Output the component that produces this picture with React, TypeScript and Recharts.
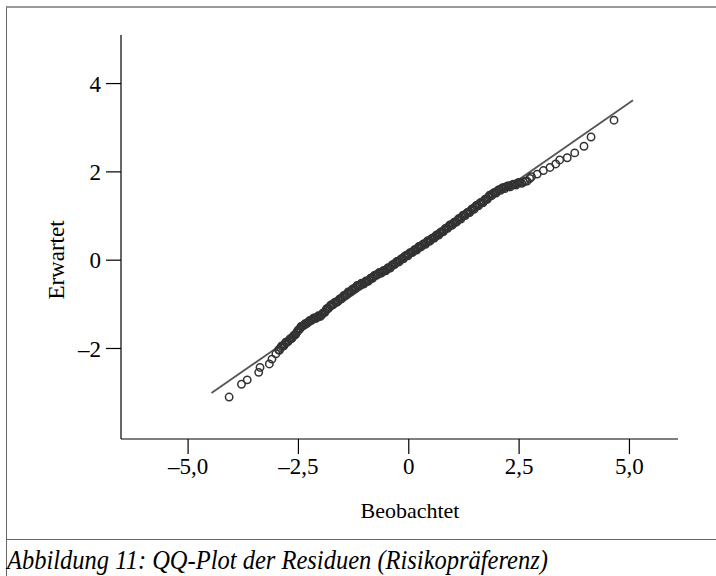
import React from "react";
import {
  ScatterChart, Scatter, XAxis, YAxis, ReferenceLine, Label,
} from "recharts";

// Beobachtete Residuen (x) und erwartete Normalquantile (y)
const observed = [
  -4.07, -3.79, -3.66, -3.40, -3.37, -3.16, -3.10, -3.01, -2.95, -2.90,
  -2.86, -2.81, -2.77, -2.72, -2.67, -2.63, -2.58, -2.54, -2.50, -2.46,
  -2.42, -2.37, -2.32, -2.27, -2.22, -2.17, -2.12, -2.07, -2.02, -1.97,
  -1.92, -1.88, -1.84, -1.79, -1.75, -1.70, -1.65, -1.60, -1.55, -1.50,
  -1.45, -1.40, -1.35, -1.30, -1.25, -1.20, -1.15, -1.10, -1.05, -1.00,
  -0.95, -0.90, -0.85, -0.80, -0.75, -0.70, -0.65, -0.60, -0.55, -0.50,
  -0.45, -0.40, -0.35, -0.30, -0.25, -0.20, -0.15, -0.10, -0.05, 0.00,
  0.05, 0.10, 0.15, 0.20, 0.25, 0.30, 0.35, 0.40, 0.45, 0.50,
  0.55, 0.60, 0.65, 0.70, 0.75, 0.80, 0.85, 0.90, 0.95, 1.00,
  1.05, 1.10, 1.15, 1.20, 1.25, 1.30, 1.35, 1.40, 1.45, 1.50,
  1.55, 1.60, 1.65, 1.70, 1.75, 1.80, 1.85, 1.90, 1.95, 2.00,
  2.05, 2.10, 2.15, 2.20, 2.27, 2.33, 2.40, 2.46, 2.52, 2.60,
  2.68, 2.74, 2.78, 2.91, 3.05, 3.20, 3.33, 3.42, 3.59, 3.76,
  3.97, 4.13, 4.65,
];

const expected = [
  -3.10, -2.81, -2.71, -2.54, -2.43, -2.35, -2.24, -2.12, -2.03, -1.98,
  -1.95, -1.90, -1.86, -1.82, -1.78, -1.74, -1.69, -1.64, -1.58, -1.54,
  -1.50, -1.47, -1.44, -1.40, -1.36, -1.33, -1.31, -1.29, -1.27, -1.24,
  -1.19, -1.14, -1.10, -1.05, -1.01, -0.98, -0.95, -0.92, -0.88, -0.84,
  -0.80, -0.76, -0.72, -0.69, -0.65, -0.61, -0.58, -0.55, -0.53, -0.51,
  -0.48, -0.45, -0.41, -0.37, -0.34, -0.31, -0.29, -0.26, -0.24, -0.21,
  -0.18, -0.14, -0.10, -0.06, -0.03, 0.00, 0.04, 0.08, 0.11, 0.14,
  0.17, 0.20, 0.24, 0.27, 0.31, 0.34, 0.37, 0.40, 0.43, 0.47,
  0.50, 0.54, 0.57, 0.61, 0.64, 0.68, 0.72, 0.76, 0.80, 0.82,
  0.86, 0.90, 0.94, 0.98, 1.02, 1.05, 1.08, 1.12, 1.16, 1.20,
  1.24, 1.28, 1.31, 1.34, 1.38, 1.43, 1.47, 1.50, 1.53, 1.56,
  1.59, 1.62, 1.64, 1.66, 1.68, 1.70, 1.72, 1.74, 1.76, 1.77,
  1.79, 1.85, 1.89, 1.95, 2.03, 2.10, 2.18, 2.27, 2.32, 2.43,
  2.58, 2.79, 3.17,
];

// weitere Fälle im dichten Mittelbereich
const observedB = [
  -2.93, -2.88, -2.83, -2.79, -2.74, -2.69, -2.65, -2.60, -2.56, -2.52,
  -2.48, -2.44, -2.40, -2.35, -2.30, -2.25, -2.20, -2.15, -2.10, -2.05,
  -2.00, -1.95, -1.90, -1.86, -1.82, -1.77, -1.72, -1.67, -1.62, -1.57,
  -1.52, -1.47, -1.42, -1.37, -1.32, -1.27, -1.22, -1.17, -1.12, -1.07,
  -1.02, -0.97, -0.92, -0.87, -0.82, -0.77, -0.72, -0.67, -0.62, -0.57,
  -0.52, -0.47, -0.42, -0.37, -0.32, -0.27, -0.22, -0.17, -0.12, -0.07,
  -0.02, 0.03, 0.08, 0.13, 0.18, 0.23, 0.28, 0.33, 0.38, 0.43,
  0.48, 0.53, 0.58, 0.63, 0.68, 0.73, 0.78, 0.83, 0.88, 0.93,
  0.98, 1.03, 1.08, 1.13, 1.18, 1.23, 1.28, 1.33, 1.38, 1.43,
  1.48, 1.53, 1.58, 1.63, 1.68, 1.73, 1.78, 1.83, 1.88, 1.93,
  1.98, 2.03, 2.08, 2.13, 2.18, 2.24, 2.30, 2.37, 2.43, 2.49,
  2.56, 2.64,
];

const expectedB = [
  -2.04, -1.94, -1.94, -1.86, -1.85, -1.78, -1.77, -1.70, -1.68, -1.60,
  -1.57, -1.50, -1.49, -1.44, -1.42, -1.37, -1.36, -1.31, -1.32, -1.26,
  -1.27, -1.20, -1.18, -1.10, -1.09, -1.02, -1.01, -0.95, -0.95, -0.88,
  -0.87, -0.80, -0.79, -0.72, -0.72, -0.65, -0.65, -0.57, -0.58, -0.52,
  -0.54, -0.47, -0.48, -0.41, -0.41, -0.34, -0.34, -0.28, -0.29, -0.23,
  -0.24, -0.17, -0.18, -0.10, -0.10, -0.03, -0.04, 0.03, 0.03, 0.10,
  0.10, 0.17, 0.17, 0.24, 0.23, 0.31, 0.30, 0.37, 0.36, 0.44,
  0.43, 0.50, 0.50, 0.57, 0.57, 0.64, 0.64, 0.72, 0.72, 0.80,
  0.79, 0.86, 0.86, 0.94, 0.93, 1.02, 1.01, 1.08, 1.08, 1.16,
  1.15, 1.24, 1.23, 1.31, 1.30, 1.38, 1.38, 1.47, 1.46, 1.53,
  1.52, 1.59, 1.58, 1.64, 1.62, 1.68, 1.66, 1.72, 1.70, 1.76,
  1.74, 1.79,
];

// Normalverteilungsgerade (Anfangs- und Endpunkt)
const lineStart = { x: -4.47, y: -3.01 };
const lineEnd = { x: 5.08, y: 3.62 };

const xTicks = [-5, -2.5, 0, 2.5, 5];
const xTickLabels = ["–5,0", "–2,5", "0", "2,5", "5,0"];
const yTicks = [-2, 0, 2, 4];
const yTickLabels = ["–2", "0", "2", "4"];

const data = [
  ...observed.map((o, i) => ({ obs: o, exp: expected[i] })),
  ...observedB.map((o, i) => ({ obs: o, exp: expectedB[i] })),
];

const font = "'Liberation Serif', 'Times New Roman', serif";
const tickStyle = { fill: "#000", fontSize: 23, fontFamily: font };

const Ring = (props: any) => (
  <circle cx={props.cx} cy={props.cy} r={3.7} fill="none" stroke="#333" strokeWidth={1.5} />
);

export default function App() {
  return (
    <div style={{ position: "fixed", left: 0, top: 0, width: 716, height: 576, background: "#fff", overflow: "hidden" }}>
      <div style={{ position: "absolute", left: 6, top: 6, width: 730, height: 531, borderTop: "2px solid #9a9a9a", borderLeft: "1px solid #666", borderBottom: "1px solid #666" }} />
      <div style={{ position: "absolute", left: 6, top: 538, width: 1, height: 40, background: "#666" }} />
      <div style={{ position: "absolute", left: 0, top: 0 }}>
        <ScatterChart width={716} height={576} margin={{ top: 35, right: 38, left: 0, bottom: 0 }}>
          <XAxis
            type="number"
            dataKey="obs"
            domain={[-6.52, 6.1]}
            allowDataOverflow
            ticks={xTicks}
            tickFormatter={(v: number) => xTickLabels[xTicks.indexOf(v)]}
            height={137}
            tickSize={15}
            tickMargin={4}
            tick={tickStyle}
            axisLine={{ stroke: "#000", strokeWidth: 1.2 }}
            tickLine={{ stroke: "#000", strokeWidth: 1.2 }}
          >
            <Label
              content={() => (
                <text x={410} y={518} textAnchor="middle" fontSize={22} fontFamily={font} fill="#000">
                  Beobachtet
                </text>
              )}
            />
          </XAxis>
          <YAxis
            type="number"
            dataKey="exp"
            domain={[-4.05, 5.1]}
            allowDataOverflow
            ticks={yTicks}
            tickFormatter={(v: number) => yTickLabels[yTicks.indexOf(v)]}
            width={121}
            tickSize={15}
            tickMargin={5}
            tick={tickStyle}
            axisLine={{ stroke: "#000", strokeWidth: 1.2 }}
            tickLine={{ stroke: "#000", strokeWidth: 1.2 }}
          >
            <Label
              content={() => (
                <text x={64} y={260} transform="rotate(-90 64 260)" textAnchor="middle" fontSize={23} fontFamily={font} fill="#000">
                  Erwartet
                </text>
              )}
            />
          </YAxis>
          <ReferenceLine
            segment={[lineStart, lineEnd]}
            stroke="#555"
            strokeWidth={1.8}
            ifOverflow="visible"
          />
          <Scatter data={data} shape={Ring} isAnimationActive={false} />
        </ScatterChart>
      </div>
      <div style={{ position: "absolute", left: 7, top: 543, fontFamily: font, fontStyle: "italic", fontSize: 28, lineHeight: "34px", color: "#000", whiteSpace: "nowrap", transform: "scaleX(0.875)", transformOrigin: "left top" }}>
        Abbildung 11: QQ-Plot der Residuen (Risikopräferenz)
      </div>
    </div>
  );
}
